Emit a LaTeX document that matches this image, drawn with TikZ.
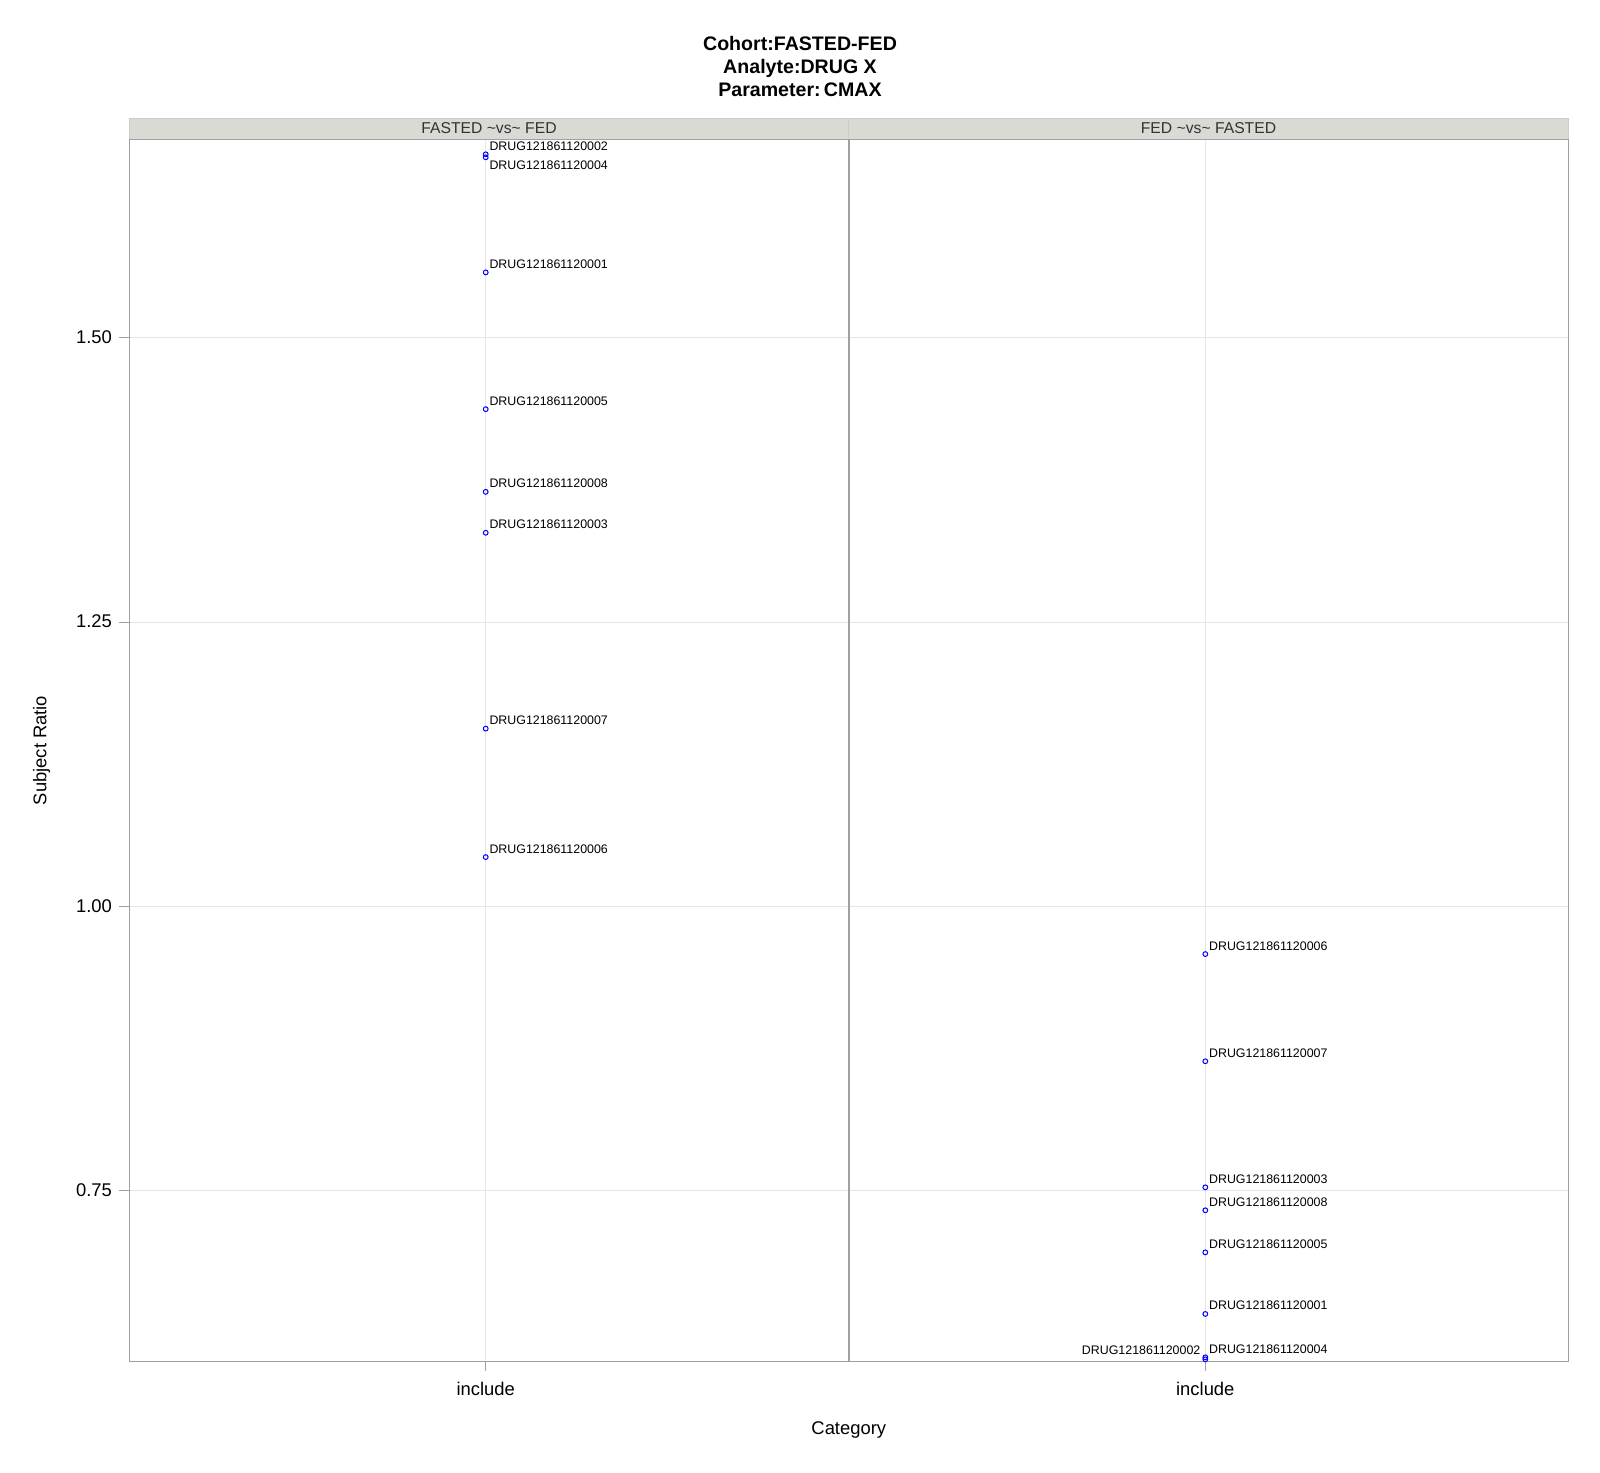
\documentclass[tikz,border=0pt]{standalone}
\usepackage{fontspec}
\setmainfont{Liberation Sans}
\usetikzlibrary{positioning}
\definecolor{framegray}{RGB}{160,160,160}
\definecolor{gridgray}{RGB}{230,230,230}
\definecolor{stripfill}{RGB}{216,218,211}
\definecolor{striptext}{RGB}{51,51,51}

\begin{document}
\begin{tikzpicture}[x=0.5pt, y=-0.5pt,
	dot/.style={circle, draw=blue, line width=0.5pt, inner sep=0pt, minimum size=2.4pt},
	idlab/.style={font=\fontsize{6.2}{7}\selectfont, inner sep=0pt, anchor=base west},
	ticklab/.style={font=\fontsize{9.2}{11}\selectfont, inner sep=0pt},
	titlelab/.style={font=\bfseries\fontsize{9.8}{11}\selectfont, inner sep=0pt, anchor=base},
	]
		\useasboundingbox (0,0) rectangle (1600,1472);
		% title
		\node[titlelab] (title1) at (800,50) {Cohort:FASTED-FED};
		\node[titlelab] (title2) at (800,73) {Analyte:DRUG X};
		\node[titlelab] (title3) at (800,96) {Parameter:\,CMAX};
		% grid
		\foreach \v in {0.75,1.00,1.25,1.50} {
			\pgfmathsetmacro\py{906.3-(\v-1)*1136.8}
			\draw[gridgray, line width=0.5pt] (129.3,\py) -- (1568.3,\py);
			\draw[framegray, line width=0.5pt] (119,\py) -- (129.3,\py);
			\node[ticklab, anchor=base east] (tick\v) at (112.3,\py+5.8) {\v};
		}
		\foreach \px in {485.7,1205.3} {
			\draw[gridgray, line width=0.5pt] (\px,139.3) -- (\px,1361.3);
			\draw[framegray, line width=0.5pt] (\px,1361.3) -- (\px,1371);
			\node[ticklab, anchor=base] at (\px,1395) {include};
		}
		% strips and panels
		\draw[stripfill!85!gray, fill=stripfill, line width=0.5pt] (129.3,118) rectangle (848.7,139.3);
		\draw[stripfill!85!gray, fill=stripfill, line width=0.5pt] (848.7,118) rectangle (1568.3,139.3);
		\node[font=\fontsize{7.85}{9}\selectfont, text=striptext, inner sep=0pt, anchor=base] (strip1) at (489,133.7) {FASTED \textasciitilde vs\textasciitilde\ FED};
		\node[font=\fontsize{7.85}{9}\selectfont, text=striptext, inner sep=0pt, anchor=base] (strip2) at (1208.5,133.7) {FED \textasciitilde vs\textasciitilde\ FASTED};
		\draw[framegray, line width=0.5pt] (129.3,139.3) rectangle (848.7,1361.3);
		\draw[framegray, line width=0.5pt] (848.7,139.3) rectangle (1568.3,1361.3);
		\draw[framegray, line width=1pt] (848.7,139.3) -- (848.7,1361.3);
		% axis titles
		\node[ticklab, rotate=90] (ylab) at (41.7,750.5) {Subject Ratio};
		\node[ticklab, anchor=base] (xlab) at (848.8,1434) {Category};
		% FASTED ~vs~ FED
		\foreach \id/\v in {001/1.5576, 005/1.4373, 008/1.3646, 003/1.3286, 007/1.1563, 006/1.0433} {
			\pgfmathsetmacro\py{906.3-(\v-1)*1136.8}
			\node[dot] (L\id) at (485.7,\py) {};
			\node[idlab] at (485.7+3.4,\py-4) {DRUG121861120\id};
		}
		\node[dot] (L002) at (485.7,154.3) {};
		\node[dot] (L004) at (485.7,157.3) {};
		\node[idlab] at (489.1,150) {DRUG121861120002};
		\node[idlab, anchor=north west] at (489.1,160.7) {DRUG121861120004};
		% FED ~vs~ FASTED
		\foreach \id/\v in {006/0.9580, 007/0.8637, 003/0.7528, 008/0.7326, 005/0.6956, 001/0.6414} {
			\pgfmathsetmacro\py{906.3-(\v-1)*1136.8}
			\node[dot] (R\id) at (1205.3,\py) {};
			\node[idlab] at (1205.3+3.4,\py-4) {DRUG121861120\id};
		}
		\node[dot] (R004) at (1205.3,1357.3) {};
		\node[dot] (R002) at (1205.3,1359.3) {};
		\node[idlab] at (1208.7,1353.3) {DRUG121861120004};
		\node[idlab, anchor=base east] at (1200.7,1354.3) {DRUG121861120002};
\end{tikzpicture}
\end{document}
